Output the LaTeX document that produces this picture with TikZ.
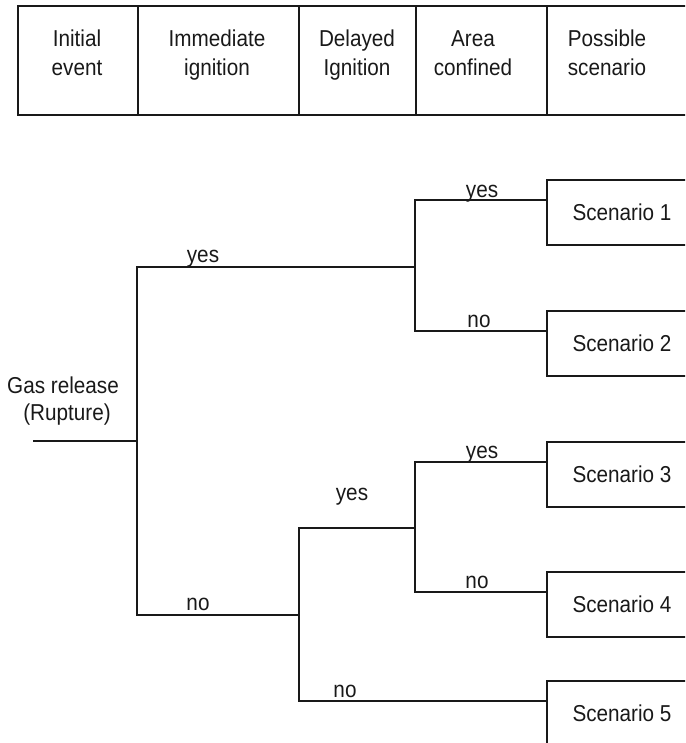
\documentclass[tikz,border=0pt]{standalone}
\usepackage{fontspec}
\setmainfont{Liberation Sans}
\usepackage{graphicx}
% slightly condensed sans lettering
\newcommand{\nt}[1]{\scalebox{0.9}[1]{#1}}
\begin{document}
\begin{tikzpicture}[x=1pt,y=-1pt,
  line/.style={line width=1.6pt, black!90, line cap=rect},
  txt/.style={font=\fontsize{23}{29}\selectfont, inner sep=0pt, anchor=base, text=black!90},
  cell/.style={draw=black!90, line width=1.6pt, rectangle, minimum height=109pt, inner sep=0pt},
  scen/.style={draw=black!90, line width=1.6pt, rectangle, minimum width=150pt,
               minimum height=65pt, inner sep=0pt, text=black!90,
               font=\fontsize{23}{29}\selectfont}]
\useasboundingbox (0,0) rectangle (685,743);
\clip (0,0) rectangle (685,743);

% header row
\node[cell, minimum width=120pt] (h1) at (78,60.5) {};
\node[cell, minimum width=161pt] (h2) at (218.5,60.5) {};
\node[cell, minimum width=117pt] (h3) at (357.5,60.5) {};
\node[cell, minimum width=131pt] (h4) at (481.5,60.5) {};
\node[cell, minimum width=160pt] (h5) at (627,60.5) {};
% column titles (base anchor sits on the second line)
\node[txt, align=center] (t1) at (77,76) {\nt{Initial}\\\nt{event}};
\node[txt, align=center] (t2) at (217,76) {\nt{Immediate}\\\nt{ignition}};
\node[txt, align=center] (t3) at (357,76) {\nt{Delayed}\\\nt{Ignition}};
\node[txt, align=center] (t4) at (473,76) {\nt{Area}\\\nt{confined}};
\node[txt, align=center] (t5) at (607,76) {\nt{Possible}\\\nt{scenario}};

% outcome boxes
\node[scen] (s1) at (622,212.5) {\nt{Scenario 1}};
\node[scen] (s2) at (622,343.5) {\nt{Scenario 2}};
\node[scen] (s3) at (622,474.5) {\nt{Scenario 3}};
\node[scen] (s4) at (622,604.5) {\nt{Scenario 4}};
\node[scen] (s5) at (622,713.5) {\nt{Scenario 5}};

% initial event
\node[txt] (ev1) at (63,393) {\nt{Gas release}};
\node[txt] (ev2) at (67,420) {\nt{(Rupture)}};

% branch points
\coordinate (root) at (34,441);
\coordinate (j0) at (137,441);
\coordinate (j1) at (415,267);
\coordinate (j2) at (299,615);
\coordinate (j3) at (415,528);
\coordinate (b1) at ([yshift=-21pt]s1.north west);
\coordinate (b2) at ([yshift=-21pt]s2.north west);
\coordinate (b3) at ([yshift=-21pt]s3.north west);
\coordinate (b4) at ([yshift=-21pt]s4.north west);
\coordinate (b5) at ([yshift=-21pt]s5.north west);

% immediate ignition
\draw[line] (root) -- (j0);
\draw[line] (j1 -| j0) -- (j2 -| j0);
\draw[line] (j1 -| j0) -- (j1);
\draw[line] (j2 -| j0) -- (j2);
% area confined after immediate ignition
\draw[line] (b1 -| j1) -- (b2 -| j1);
\draw[line] (b1 -| j1) -- (b1);
\draw[line] (b2 -| j1) -- (b2);
% delayed ignition
\draw[line] (j3 -| j2) -- (b5 -| j2);
\draw[line] (j3 -| j2) -- (j3);
\draw[line] (b5 -| j2) -- (b5);
% area confined after delayed ignition
\draw[line] (b3 -| j3) -- (b4 -| j3);
\draw[line] (b3 -| j3) -- (b3);
\draw[line] (b4 -| j3) -- (b4);

% branch labels
\node[txt] (l1) at (203,262) {\nt{yes}};
\node[txt] (l2) at (198,610) {\nt{no}};
\node[txt] (l3) at (482,197) {\nt{yes}};
\node[txt] (l4) at (479,327) {\nt{no}};
\node[txt] (l5) at (352,500) {\nt{yes}};
\node[txt] (l6) at (345,697) {\nt{no}};
\node[txt] (l7) at (482,458) {\nt{yes}};
\node[txt] (l8) at (477,588) {\nt{no}};
\end{tikzpicture}
\end{document}
